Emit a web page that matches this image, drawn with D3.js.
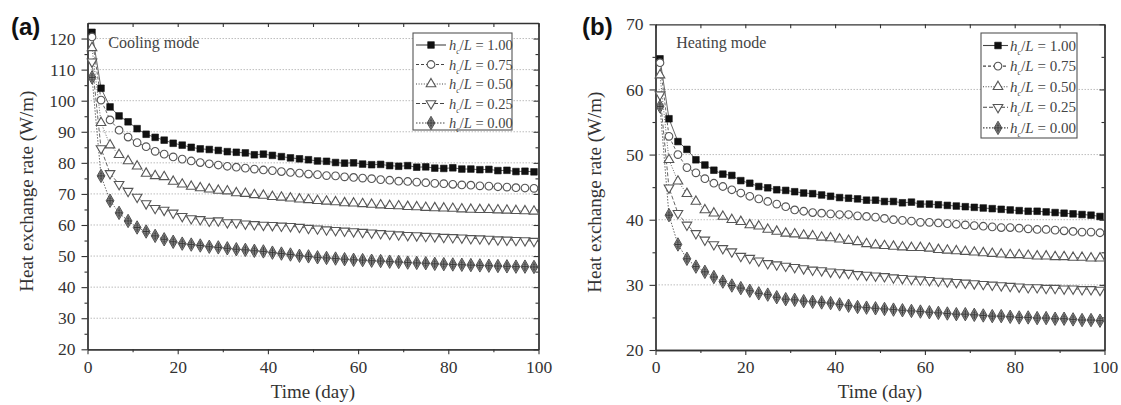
<!DOCTYPE html>
<html>
<head>
<meta charset="utf-8">
<script src="https://cdn.jsdelivr.net/npm/d3@7"></script>
<style>
  html, body { margin: 0; padding: 0; background: #fff; }
  svg { display: block; }
  text { font-family: "Liberation Serif", "Times New Roman", serif; fill: #333; }
</style>
</head>
<body>
<svg id="chart" width="1121" height="405"></svg>
<script>
// Sampling days (every second day)
const days = [1, 3, 5, 7, 9, 11, 13, 15, 17, 19, 21, 23, 25, 27, 29, 31, 33, 35, 37, 39,
              41, 43, 45, 47, 49, 51, 53, 55, 57, 59, 61, 63, 65, 67, 69, 71, 73, 75, 77, 79,
              81, 83, 85, 87, 89, 91, 93, 95, 97, 99];

// Series labels: h_c / L ratios
const ratioLabels = ["1.00", "0.75", "0.50", "0.25", "0.00"];

// (a) Cooling mode, heat exchange rate (W/m)
const coolH100 = [122.0, 104.0, 98.0, 95.1, 93.2, 91.0, 89.2, 88.2, 87.3, 86.3, 85.7, 85.0, 84.5, 84.3, 84.0, 83.6, 83.4, 83.2, 82.6, 82.8,
                  82.4, 82.0, 81.6, 81.3, 81.0, 80.6, 80.5, 80.1, 79.9, 80.0, 79.6, 79.4, 79.5, 79.1, 78.9, 79.1, 78.6, 78.7, 78.3, 78.2,
                  78.4, 78.0, 78.0, 77.8, 77.9, 77.5, 77.6, 77.2, 77.3, 77.1];
const coolH075 = [120.5, 100.2, 93.8, 90.5, 88.3, 86.5, 85.2, 83.7, 82.8, 81.9, 81.2, 80.6, 80.1, 79.7, 79.3, 78.9, 78.6, 78.3, 78.0, 77.7,
                  77.5, 77.2, 76.9, 76.7, 76.4, 76.2, 75.9, 75.8, 75.5, 75.3, 75.1, 74.9, 74.6, 74.4, 74.1, 74.0, 73.8, 73.6, 73.4, 73.3,
                  73.1, 72.9, 72.8, 72.6, 72.5, 72.3, 72.2, 72.0, 71.9, 71.8];
const coolH050 = [117.0, 92.9, 85.7, 82.6, 80.6, 78.9, 76.6, 75.8, 75.5, 74.0, 73.1, 72.4, 71.9, 71.5, 71.1, 70.9, 70.3, 70.1, 69.7, 69.5,
                  69.1, 68.9, 68.6, 68.3, 68.1, 67.8, 67.6, 67.4, 67.1, 67.0, 66.8, 66.6, 66.4, 66.2, 66.1, 65.9, 65.8, 65.6, 65.5, 65.4,
                  65.3, 65.1, 65.0, 64.9, 64.9, 64.8, 64.7, 64.6, 64.5, 64.4];
const coolH025 = [112.5, 84.6, 76.6, 73.1, 70.9, 69.0, 66.9, 65.4, 64.8, 63.9, 62.8, 62.1, 61.8, 61.3, 61.4, 60.8, 60.8, 60.4, 60.2, 60.0,
                  59.9, 59.7, 59.6, 59.3, 59.0, 58.8, 58.5, 58.3, 58.1, 57.9, 57.7, 57.5, 57.3, 57.1, 56.9, 56.7, 56.6, 56.4, 56.3, 56.1,
                  56.0, 55.9, 55.7, 55.6, 55.5, 55.3, 55.2, 55.1, 55.0, 54.8];
const coolH000 = [107.5, 75.8, 67.8, 63.9, 61.3, 59.2, 57.9, 56.5, 55.4, 54.6, 54.0, 53.7, 53.4, 53.0, 52.8, 52.5, 52.2, 52.0, 51.7, 51.5,
                  51.1, 50.8, 50.5, 50.1, 49.9, 49.6, 49.4, 49.2, 49.0, 48.8, 48.7, 48.5, 48.4, 48.2, 48.1, 47.9, 47.8, 47.7, 47.5, 47.4,
                  47.3, 47.2, 47.1, 47.0, 46.9, 46.8, 46.7, 46.6, 46.6, 46.5];

// (b) Heating mode, heat exchange rate (W/m)
const heatH100 = [64.7, 55.5, 52.0, 50.8, 49.2, 48.4, 47.6, 47.0, 46.8, 46.0, 45.6, 45.1, 44.9, 44.6, 44.5, 44.3, 44.1, 44.0, 43.8, 43.6,
                  43.4, 43.3, 43.2, 43.0, 43.0, 42.8, 42.8, 42.6, 42.7, 42.4, 42.4, 42.3, 42.2, 42.1, 42.0, 41.9, 41.8, 41.7, 41.6, 41.5,
                  41.4, 41.3, 41.3, 41.2, 41.1, 41.0, 40.9, 40.8, 40.7, 40.5];
const heatH075 = [64.1, 52.8, 50.0, 48.0, 47.2, 46.3, 45.6, 45.1, 44.6, 44.1, 43.6, 43.2, 42.8, 42.4, 42.0, 41.5, 41.3, 41.1, 41.0, 40.9,
                  40.8, 40.8, 40.6, 40.5, 40.4, 40.2, 40.0, 39.9, 39.8, 39.6, 39.6, 39.5, 39.4, 39.3, 39.2, 39.1, 39.0, 38.9, 38.8, 38.8,
                  38.7, 38.6, 38.5, 38.5, 38.4, 38.3, 38.2, 38.1, 38.1, 38.0];
const heatH050 = [62.2, 49.2, 45.9, 44.0, 42.8, 41.5, 41.0, 40.5, 40.0, 39.7, 39.2, 39.0, 38.5, 38.2, 37.9, 37.8, 37.6, 37.5, 37.3, 37.2,
                  37.0, 36.8, 36.6, 36.3, 36.1, 36.0, 35.9, 35.8, 35.7, 35.7, 35.6, 35.4, 35.3, 35.2, 35.1, 35.0, 34.9, 34.8, 34.7, 34.6,
                  34.6, 34.5, 34.4, 34.4, 34.3, 34.3, 34.2, 34.2, 34.1, 34.1];
const heatH025 = [59.2, 44.9, 41.0, 39.2, 37.9, 36.9, 36.2, 35.6, 35.1, 34.4, 34.1, 33.7, 33.3, 33.1, 32.9, 32.7, 32.5, 32.3, 32.2, 32.0,
                  31.9, 31.8, 31.6, 31.5, 31.4, 31.3, 31.1, 31.0, 30.9, 30.8, 30.7, 30.6, 30.5, 30.4, 30.3, 30.2, 30.1, 30.0, 29.9, 29.8,
                  29.7, 29.6, 29.6, 29.5, 29.5, 29.4, 29.4, 29.3, 29.3, 29.2];
const heatH000 = [57.4, 40.7, 36.2, 34.0, 32.8, 32.0, 31.2, 30.5, 29.9, 29.5, 29.1, 28.7, 28.5, 28.1, 27.8, 27.7, 27.5, 27.4, 27.3, 27.2,
                  27.0, 26.8, 26.6, 26.5, 26.4, 26.3, 26.2, 26.1, 26.0, 25.9, 25.8, 25.7, 25.6, 25.5, 25.5, 25.4, 25.3, 25.2, 25.2, 25.1,
                  25.0, 25.0, 24.9, 24.9, 24.8, 24.8, 24.7, 24.6, 24.6, 24.5];

// Axis ticks
const xMajorTicks = [0, 20, 40, 60, 80, 100];
const xMinorTicks = [10, 30, 50, 70, 90];
const coolYTicks = [20, 30, 40, 50, 60, 70, 80, 90, 100, 110, 120];
const coolYMinor = [25, 35, 45, 55, 65, 75, 85, 95, 105, 115];
const heatYTicks = [20, 30, 40, 50, 60, 70];
const heatYMinor = [25, 35, 45, 55, 65];

// Per-series drawing styles (marker kind, connecting line dash)
const styles = [
  { kind: "square",  dash: null },
  { kind: "circle",  dash: "3,2" },
  { kind: "tri",     dash: "1,1.6" },
  { kind: "triDown", dash: "4,2" },
  { kind: "diamond", dash: "1.5,1.5" }
];

const panels = [
  {
    tag: "(a)", tagX: 11, mode: "Cooling mode",
    xr: [87.5, 538.5], yr: [349.3, 23], yDomain: [20, 125],
    yTicks: coolYTicks, yMinor: coolYMinor,
    series: [coolH100, coolH075, coolH050, coolH025, coolH000],
    legend: { x: 413, y: 33, w: 99, h: 97, row: 19.5, first: 45, sx0: 416, sx1: 446, mx: 431, tx: 449, fs: 14.5 }
  },
  {
    tag: "(b)", tagX: 582, mode: "Heating mode",
    xr: [655.5, 1104.5], yr: [350, 24.3], yDomain: [20, 70],
    yTicks: heatYTicks, yMinor: heatYMinor,
    series: [heatH100, heatH075, heatH050, heatH025, heatH000],
    legend: { x: 981, y: 33, w: 96, h: 105, row: 20.6, first: 45.5, sx0: 983, sx1: 1008, mx: 998, tx: 1010, fs: 15 }
  }
];

const svg = d3.select("#chart");

function drawMarker(g, kind, cx, cy) {
  if (kind === "square") {
    g.append("path").attr("d", d3.symbol(d3.symbolSquare, 44)())
      .attr("transform", `translate(${cx},${cy})`)
      .attr("fill", "#111").attr("stroke", "#111").attr("stroke-width", 0.6);
  } else if (kind === "circle") {
    g.append("path").attr("d", d3.symbol(d3.symbolCircle, 46)())
      .attr("transform", `translate(${cx},${cy})`)
      .attr("fill", "#fff").attr("stroke", "#555").attr("stroke-width", 1.1);
  } else if (kind === "tri") {
    g.append("path").attr("d", d3.symbol(d3.symbolTriangle, 40)())
      .attr("transform", `translate(${cx},${cy})`)
      .attr("fill", "#fff").attr("stroke", "#555").attr("stroke-width", 1.1);
  } else if (kind === "triDown") {
    g.append("path").attr("d", d3.symbol(d3.symbolTriangle, 40)())
      .attr("transform", `translate(${cx},${cy}) rotate(180)`)
      .attr("fill", "#fff").attr("stroke", "#555").attr("stroke-width", 1.1);
  } else {
    const m = g.append("g").attr("transform", `translate(${cx},${cy})`);
    m.append("path").attr("d", d3.symbol(d3.symbolDiamond, 52)())
      .attr("fill", "#8e8e8e").attr("stroke", "#444").attr("stroke-width", 0.9);
    m.append("circle").attr("r", 2.6).attr("fill", "none")
      .attr("stroke", "#555").attr("stroke-width", 0.7);
    m.append("path").attr("d", "M-3.2,0H3.2M0,-4.4V4.4")
      .attr("stroke", "#333").attr("stroke-width", 0.9);
  }
}

panels.forEach(p => {
  const x = d3.scaleLinear().domain([0, 100]).range(p.xr);
  const y = d3.scaleLinear().domain(p.yDomain).range(p.yr);
  const g = svg.append("g");
  const [L, R] = p.xr;
  const [B, T] = p.yr;

  // horizontal dotted grid at major y ticks
  g.append("g").selectAll("line")
    .data(p.yTicks.filter(v => v > p.yDomain[0] && v < p.yDomain[1]))
    .join("line")
    .attr("x1", L).attr("x2", R)
    .attr("y1", d => y(d)).attr("y2", d => y(d))
    .attr("stroke", "#bdbdbd").attr("stroke-width", 1)
    .attr("stroke-dasharray", "1.5,1.5");

  // bottom axis: outward ticks with labels
  g.append("g").attr("transform", `translate(0,${B})`)
    .call(d3.axisBottom(x).tickValues(xMajorTicks).tickSize(5).tickSizeOuter(0).tickPadding(6)
      .tickFormat(d3.format("d")));
  g.append("g").attr("transform", `translate(0,${B})`)
    .call(d3.axisBottom(x).tickValues(xMinorTicks).tickSize(3).tickSizeOuter(0).tickFormat(""));

  // left axis: outward ticks with labels
  g.append("g").attr("transform", `translate(${L},0)`)
    .call(d3.axisLeft(y).tickValues(p.yTicks).tickSize(6).tickSizeOuter(0).tickPadding(6)
      .tickFormat(d3.format("d")));
  g.append("g").attr("transform", `translate(${L},0)`)
    .call(d3.axisLeft(y).tickValues(p.yMinor).tickSize(3).tickSizeOuter(0).tickFormat(""));

  // top and right mirror axes with inward ticks
  g.append("g").attr("transform", `translate(0,${T})`)
    .call(d3.axisTop(x).tickValues(xMajorTicks.concat(xMinorTicks)).tickSize(-4).tickSizeOuter(0).tickFormat(""));
  g.append("g").attr("transform", `translate(${R},0)`)
    .call(d3.axisRight(y).tickValues(p.yTicks).tickSize(-5).tickSizeOuter(0).tickFormat(""));
  g.append("g").attr("transform", `translate(${R},0)`)
    .call(d3.axisRight(y).tickValues(p.yMinor).tickSize(-3).tickSizeOuter(0).tickFormat(""));

  g.selectAll(".domain").attr("stroke", "#333").attr("stroke-width", 1.3);
  g.selectAll(".tick line").attr("stroke", "#333").attr("stroke-width", 1.1);
  g.selectAll(".tick text")
    .style("font-family", "'Liberation Serif', 'Times New Roman', serif")
    .style("font-size", "17.5px").style("fill", "#333");

  // series: connecting lines, then markers
  const line = d3.line().x(d => x(d[0])).y(d => y(d[1]));
  p.series.forEach((vals, i) => {
    const pts = days.map((d, k) => [d, vals[k]]);
    g.append("path").datum(pts).attr("d", line)
      .attr("fill", "none").attr("stroke", "#555").attr("stroke-width", 0.9)
      .attr("stroke-dasharray", styles[i].dash);
  });
  p.series.forEach((vals, i) => {
    const mg = g.append("g");
    days.forEach((d, k) => drawMarker(mg, styles[i].kind, x(d), y(vals[k])));
  });

  // legend
  const lg = p.legend;
  const leg = g.append("g");
  leg.append("rect").attr("x", lg.x).attr("y", lg.y).attr("width", lg.w).attr("height", lg.h)
    .attr("fill", "#fff").attr("stroke", "#555").attr("stroke-width", 1.1);
  ratioLabels.forEach((lab, i) => {
    const cy = lg.first + i * lg.row;
    leg.append("line").attr("x1", lg.sx0).attr("x2", lg.sx1).attr("y1", cy).attr("y2", cy)
      .attr("stroke", "#444").attr("stroke-width", 1.1)
      .attr("stroke-dasharray", styles[i].dash);
    drawMarker(leg, styles[i].kind, lg.mx, cy);
    const t = leg.append("text").attr("x", lg.tx).attr("y", cy + 5)
      .style("font-size", lg.fs + "px").style("fill", "#444");
    t.append("tspan").style("font-style", "italic").text("h");
    t.append("tspan").style("font-style", "italic").style("font-size", (lg.fs * 0.55) + "px").attr("dy", 4).text("c");
    t.append("tspan").attr("dy", -4).text("/");
    t.append("tspan").style("font-style", "italic").text("L");
    t.append("tspan").text(" = " + lab);
  });

  // mode label
  g.append("text").attr("x", x(4.6)).attr("y", 48)
    .style("font-size", "16px").style("fill", "#444").text(p.mode);

  // panel tag
  g.append("text").attr("x", p.tagX).attr("y", 35)
    .style("font-family", "'Liberation Sans', Arial, sans-serif")
    .style("font-weight", "bold").style("font-size", "24px").style("fill", "#111").text(p.tag);

  // axis titles
  g.append("text").attr("x", (L + R) / 2).attr("y", 398)
    .attr("text-anchor", "middle").style("font-size", "19px").style("fill", "#333").text("Time (day)");
  g.append("text")
    .attr("transform", `translate(${L - 55},${(B + T) / 2 + 5}) rotate(-90)`)
    .attr("text-anchor", "middle").style("font-size", "19px").style("fill", "#333")
    .text("Heat exchange rate (W/m)");
});
</script>
</body>
</html>
